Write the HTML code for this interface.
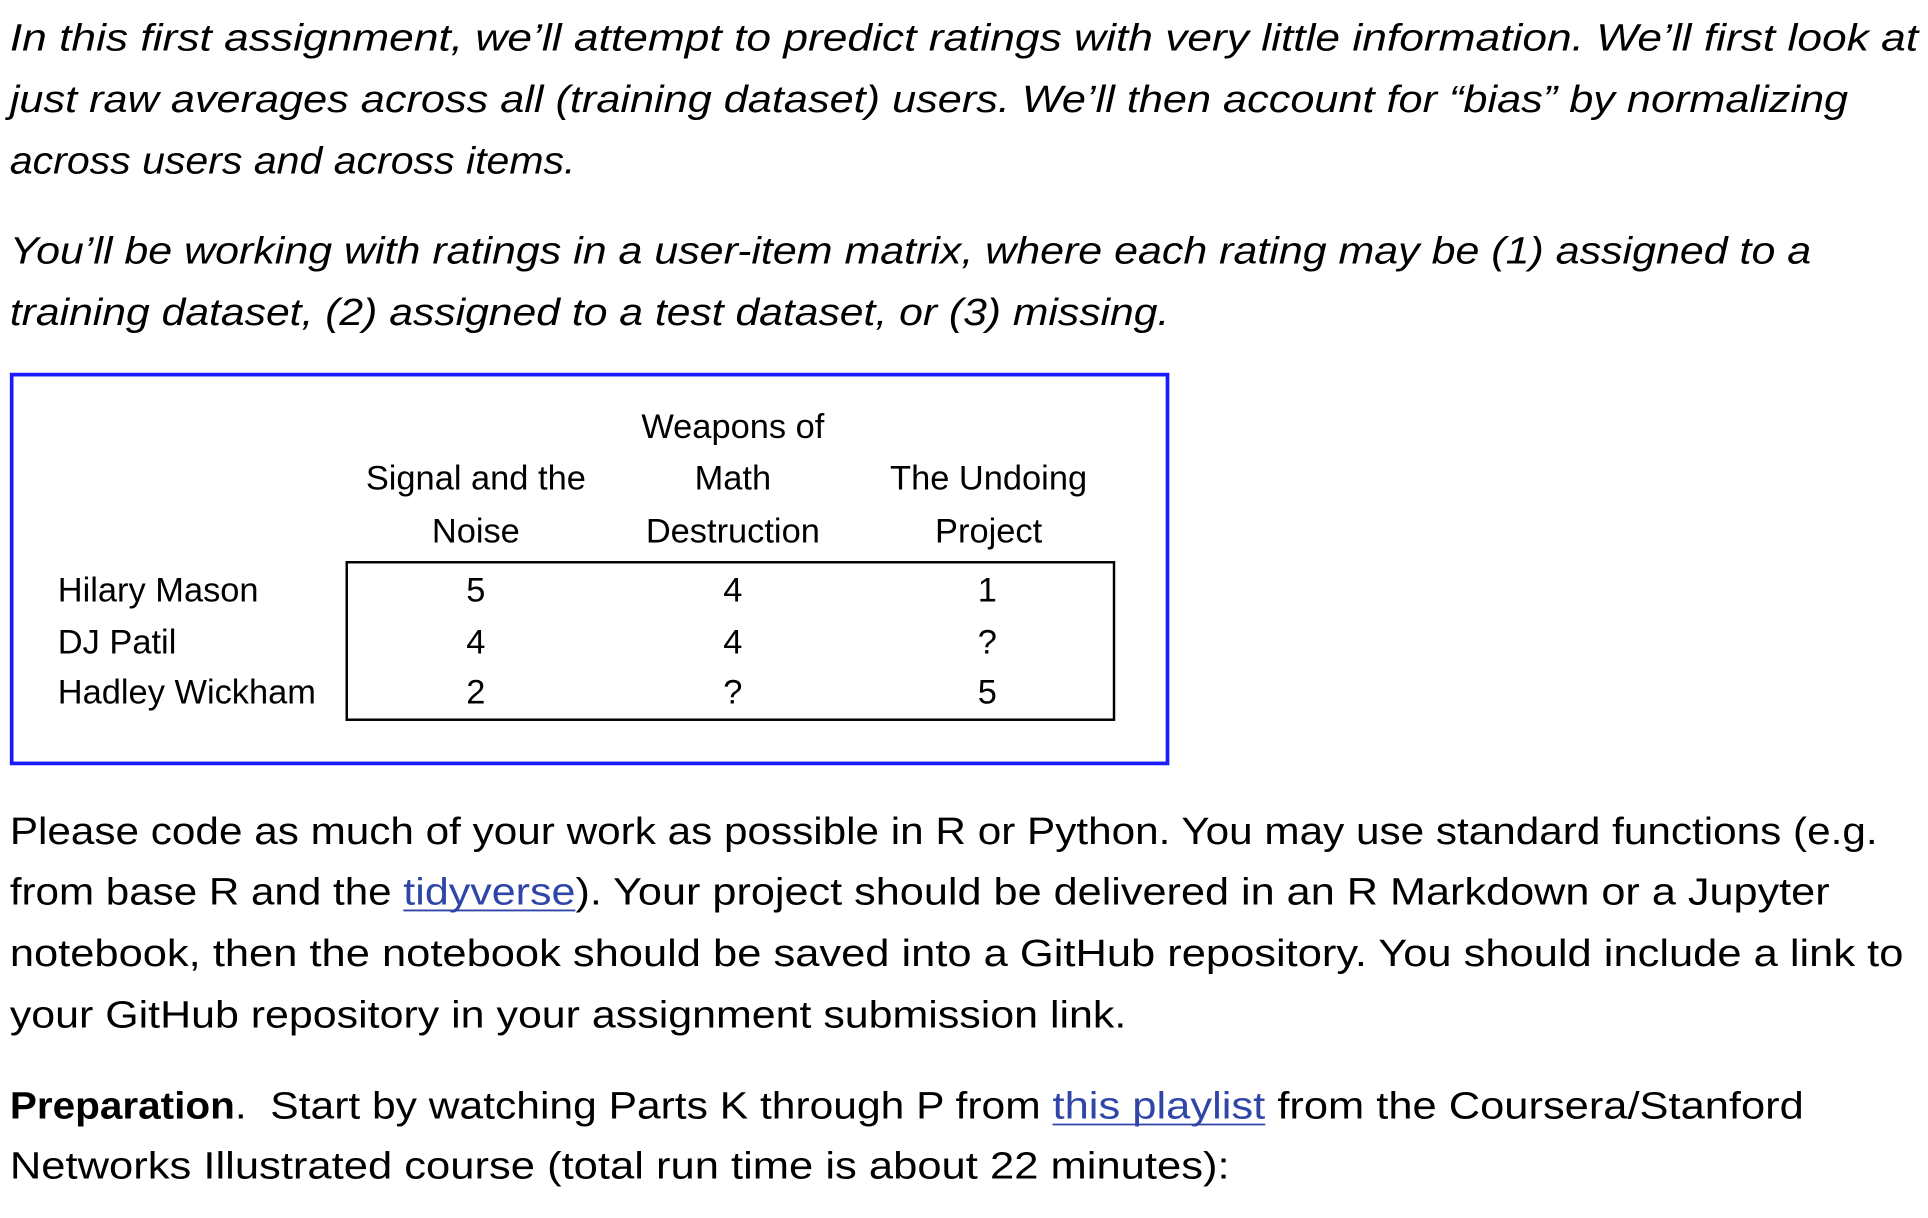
<!DOCTYPE html>
<html><head><meta charset="utf-8"><style>
html,body{margin:0;padding:0;background:#fff;}
svg{display:block;}
.it{font-family:"Liberation Sans",sans-serif;font-style:italic;font-size:31px;fill:#000;}
.bd{font-family:"Liberation Sans",sans-serif;font-size:31px;fill:#000;}
.tb{font-family:"Liberation Sans",sans-serif;font-size:28px;fill:#000;}
.lk{fill:#2f46a8;}
</style></head><body>
<svg width="1928" height="1218" viewBox="0 0 1568 990" preserveAspectRatio="none" xmlns="http://www.w3.org/2000/svg">
<g>
<text class="it" x="8" y="41" textLength="1552" lengthAdjust="spacingAndGlyphs">In this first assignment, we’ll attempt to predict ratings with very little information.  We’ll first look at</text>
<text class="it" x="8" y="91" textLength="1495" lengthAdjust="spacingAndGlyphs">just raw averages across all (training dataset) users.  We’ll then account for “bias” by normalizing</text>
<text class="it" x="8" y="141" textLength="460" lengthAdjust="spacingAndGlyphs">across users and across items.</text>
</g>
<g>
<text class="it" x="8" y="214" textLength="1465" lengthAdjust="spacingAndGlyphs">You’ll be working with ratings in a user-item matrix, where each rating may be (1) assigned to a</text>
<text class="it" x="8" y="264" textLength="943" lengthAdjust="spacingAndGlyphs">training dataset, (2) assigned to a test dataset, or (3) missing.</text>
</g>
<g>
<rect x="9.5" y="304.5" width="940" height="316" fill="none" stroke="#1a1aff" stroke-width="3"/>
<text class="tb" text-anchor="middle" x="596" y="356">Weapons of</text>
<text class="tb" text-anchor="middle" x="387" y="398">Signal and the</text>
<text class="tb" text-anchor="middle" x="596" y="398">Math</text>
<text class="tb" text-anchor="middle" x="804" y="398">The Undoing</text>
<text class="tb" text-anchor="middle" x="387" y="441">Noise</text>
<text class="tb" text-anchor="middle" x="596" y="441">Destruction</text>
<text class="tb" text-anchor="middle" x="804" y="441">Project</text>
<rect x="282" y="457" width="624" height="128" fill="none" stroke="#000" stroke-width="2"/>
<text class="tb" x="47" y="489">Hilary Mason</text>
<text class="tb" x="47" y="531">DJ Patil</text>
<text class="tb" x="47" y="572">Hadley Wickham</text>
<text class="tb" text-anchor="middle" x="387" y="489">5</text>
<text class="tb" text-anchor="middle" x="596" y="489">4</text>
<text class="tb" text-anchor="middle" x="803" y="489">1</text>
<text class="tb" text-anchor="middle" x="387" y="531">4</text>
<text class="tb" text-anchor="middle" x="596" y="531">4</text>
<text class="tb" text-anchor="middle" x="803" y="531">?</text>
<text class="tb" text-anchor="middle" x="387" y="572">2</text>
<text class="tb" text-anchor="middle" x="596" y="572">?</text>
<text class="tb" text-anchor="middle" x="803" y="572">5</text>
</g>
<g>
<text class="bd" x="8" y="686" textLength="1519" lengthAdjust="spacingAndGlyphs">Please code as much of your work as possible in R or Python.  You may use standard functions (e.g.</text>
<text class="bd" x="8" y="735" textLength="320" lengthAdjust="spacingAndGlyphs">from base R and the&#160;</text>
<text class="bd lk" x="328" y="735" textLength="140" lengthAdjust="spacingAndGlyphs">tidyverse</text>
<line x1="328" y1="740" x2="468" y2="740" stroke="#2f46a8" stroke-width="1.5"/>
<text class="bd" x="468" y="735" textLength="1020" lengthAdjust="spacingAndGlyphs">).  Your project should be delivered in an R Markdown or a Jupyter</text>
<text class="bd" x="8" y="785" textLength="1540" lengthAdjust="spacingAndGlyphs">notebook, then the notebook should be saved into a GitHub repository.  You should include a link to</text>
<text class="bd" x="8" y="835" textLength="908" lengthAdjust="spacingAndGlyphs">your GitHub repository in your assignment submission link.</text>
</g>
<g>
<text class="bd" x="8" y="909" font-weight="bold" textLength="183" lengthAdjust="spacingAndGlyphs">Preparation</text>
<text class="bd" x="191" y="909" textLength="665" lengthAdjust="spacingAndGlyphs">.&#160; Start by watching Parts K through P from&#160;</text>
<text class="bd lk" x="856" y="909" textLength="173" lengthAdjust="spacingAndGlyphs">this playlist</text>
<line x1="856" y1="914" x2="1029" y2="914" stroke="#2f46a8" stroke-width="1.5"/>
<text class="bd" x="1029" y="909" textLength="438" lengthAdjust="spacingAndGlyphs">&#160;from the Coursera/Stanford</text>
<text class="bd" x="8" y="958" textLength="992" lengthAdjust="spacingAndGlyphs">Networks Illustrated course (total run time is about 22 minutes):</text>
</g>
</svg>
</body></html>
